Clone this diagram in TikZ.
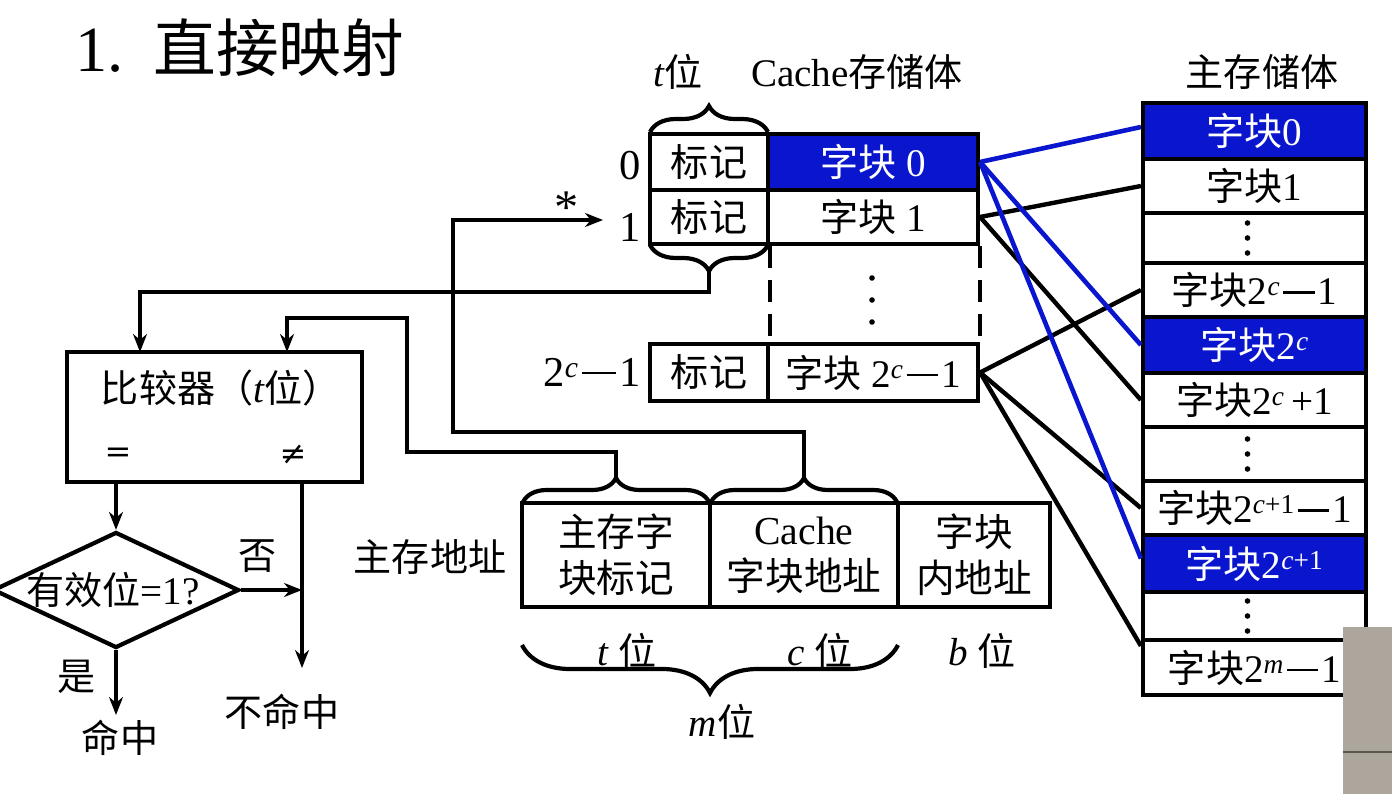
\documentclass[tikz,border=0pt]{standalone}
\usepackage{fontspec}
\setmainfont{Liberation Serif}[Scale=1.15]
\newfontfamily\cjk{Noto Sans CJK SC}[Scale=1.12]
\newfontfamily\dvs{DejaVu Serif}
\usetikzlibrary{arrows.meta,decorations.pathreplacing,calc,shapes.geometric}
\definecolor{cblue}{RGB}{10,22,205}
\definecolor{camgray}{RGB}{172,166,156}
\definecolor{camline}{RGB}{90,86,80}
\newcommand\zh[1]{{\cjk #1}}
\newcommand\ldash{\hspace{0.08em}\rule[0.28em]{0.8em}{0.055em}\hspace{0.08em}}
\newcommand\txtfont{\fontsize{34}{44}\selectfont}
\newcommand\mydots[3]{\fill ($(#1)+(#2,-#3)$) circle (2.8pt) ($(#1)+(#2,0)$) circle (2.8pt) ($(#1)+(#2,#3)$) circle (2.8pt);}
\begin{document}
\begin{tikzpicture}[x=1pt,y=-1pt,font=\txtfont,inner sep=0pt,
  lw/.style={line width=4.2pt},
  cell/.style 2 args={draw,lw,minimum width=#1,minimum height=#2,inner sep=0pt},
  arr/.style={lw,-{Stealth[length=18pt,width=14pt]}},
  brc/.style={lw,decorate,decoration={brace,amplitude=#1}},
  bline/.style={line width=4.6pt,cblue},
  kline/.style={line width=4.4pt,black}]
\useasboundingbox (0,0) rectangle (1392,794);
\fill[white] (0,0) rectangle (1392,794);

% title
\node[anchor=west,font=\fontsize{56}{56}\selectfont] (title) at (75,48) {1.\hspace{30pt}\zh{直接映射}};

% top labels
\node (tlab) at (678,72) {\textit{t}\zh{位}};
\node (cachelab) at (857,72) {Cache\zh{存储体}};
\node (memlab) at (1262,72) {\zh{主存储体}};

% cache cells
\node[cell={118}{56}] (t0) at (709,162) {\zh{标记}};
\node[cell={210}{56},fill=cblue,text=white] (d0) at (873,162) {\zh{字块} 0};
\node[cell={118}{54}] (t1) at (709,217) {\zh{标记}};
\node[cell={210}{54}] (d1) at (873,217) {\zh{字块} 1};
\node[cell={118}{57}] (tL) at (709,372.5) {\zh{标记}};
\node[cell={210}{57}] (dL) at (873,372.5) {\zh{字块} 2\textsuperscript{\textit{c}}\ldash 1};
\draw[lw,dash pattern=on 22pt off 12pt] (t1.south east) -- (tL.north east);
\draw[lw,dash pattern=on 22pt off 12pt] (d1.south east) -- (dL.north east);
\coordinate (cdots) at (872,300);
\mydots{cdots}{0}{22}

% row labels
\node[anchor=east,font=\fontsize{37}{44}\selectfont] (r0) at (641,166) {0};
\node[anchor=east,font=\fontsize{37}{44}\selectfont] (r1) at (641,227) {1};
\node[anchor=east,font=\fontsize{37}{44}\selectfont] (rL) at (641,372) {2\textsuperscript{\textit{c}}\ldash 1};

% braces on tag column
\draw[brc=26pt] (650,132) -- (768,132);
\draw[brc=26pt] (768,245) -- (650,245);
\coordinate (tbr) at (709,271);

% main memory
\node[cell={223}{56},fill=cblue,text=white] (m0) at (1254.5,131) {\zh{字块}0};
\node[cell={223}{54}] (m1) at (1254.5,186) {\zh{字块}1};
\node[cell={223}{50}] (m2) at (1254.5,238) {};
\node[cell={223}{54}] (m3) at (1254.5,290) {\zh{字块}2\textsuperscript{\textit{c}}\ldash 1};
\node[cell={223}{56},fill=cblue,text=white] (m4) at (1254.5,345) {\zh{字块}2\textsuperscript{\textit{c}}};
\node[cell={223}{54}] (m5) at (1254.5,400) {\zh{字块}2\textsuperscript{\textit{c}}\,+1};
\node[cell={223}{54}] (m6) at (1254.5,454) {};
\node[cell={223}{54}] (m7) at (1254.5,508) {\zh{字块}2\textsuperscript{\textit{c}+1}\ldash 1};
\node[cell={223}{57},fill=cblue,text=white] (m8) at (1254.5,563.5) {\zh{字块}2\textsuperscript{\textit{c}+1}};
\node[cell={223}{48}] (m9) at (1254.5,616) {};
\node[cell={223}{55}] (m10) at (1254.5,667.5) {\zh{字块}2\textsuperscript{\textit{m}}\ldash 1};
\mydots{m2}{-7}{15}
\mydots{m6}{-7}{15}
\mydots{m9}{-7}{15}

% cache -> memory connectors
\draw[kline] (d1.east) -- (m1.west);
\draw[kline] (d1.east) -- (m5.west);
\draw[kline] (dL.east) -- (m3.west);
\draw[kline] (dL.east) -- (m7.west);
\draw[kline] (dL.east) -- ($(m10.north west)+(0,8)$);
\draw[bline] (d0.east) -- ($(m0.west)+(0,-4)$);
\draw[bline] (d0.east) -- (m4.west);
\draw[bline] (d0.east) -- ($(m8.west)+(0,-5)$);

% main memory address
\node (addrlab) at (430,557) {\zh{主存地址}};
\node[cell={188}{104},align=center,font=\fontsize{34.5}{46}\selectfont] (a1) at (616,555) {\zh{主存字}\\\zh{块标记}};
\node[cell={188}{104},align=center,font=\fontsize{34.5}{46}\selectfont] (a2) at (804,555) {Cache\\\zh{字块地址}};
\node[cell={152}{104},align=center,font=\fontsize{34.5}{46}\selectfont] (a3) at (974,555) {\zh{字块}\\\zh{内地址}};
\draw[brc=24pt] (523,502) -- (709,502);
\draw[brc=24pt] (711,502) -- (897,502);
\coordinate (ab1) at (616,478);
\coordinate (ab2) at (804,478);
\draw[brc=48pt] (898,645) -- (522,645);
\node (tw) at (627,651) {\textit{t} \zh{位}};
\node (cw) at (820,651) {\textit{c} \zh{位}};
\node (bw) at (982,651) {\textit{b} \zh{位}};
\node (mw) at (722,722) {\textit{m}\zh{位}};

% comparator
\node[draw,lw,minimum width=295,minimum height=130] (cmp) at (214.5,417) {};
\node (cmptxt) at (221,388) {\zh{比较器（}\textit{t}\zh{位）}};
\node[font=\dvs\fontsize{32}{40}\selectfont] (eq) at (118,455) {=};
\node[font=\dvs\fontsize{32}{40}\selectfont] (ne) at (293,455) {≠};
\coordinate (cin1) at (140,352);
\coordinate (cin2) at (287,352);

% tag compare path
\draw[arr] (tbr) -- (709,292) -| (cin1);
% address tag path
\draw[arr] (ab1) -- (616,452) -- (407,452) -- (407,318) -| (cin2);
% cache index path
\coordinate (star) at (603,220);
\draw[arr] (ab2) -- (804,432) -- (453,432) -- (453,220) -- (star);
\node[font=\fontsize{42}{42}\selectfont] (asterisk) at (567,208) {*};

% decision
\node[diamond,draw,lw,minimum width=246,minimum height=116,inner sep=0pt,aspect=2.1] (dia) at (116,590) {};
\node (diatxt) at (113,590) {\zh{有效位}=1?};
\coordinate (nm) at (302,668);
\coordinate (hit) at (116,715);
\draw[arr] (dia.north |- cmp.south) -- (dia.north);
\draw[arr] (nm |- cmp.south) -- (nm);
\draw[arr] (dia.east) -- (dia.east -| nm);
\draw[arr] (dia.south) -- (hit);
\node (no) at (258,556) {\zh{否}};
\node (yes) at (77,677) {\zh{是}};
\node (hitlab) at (120,738) {\zh{命中}};
\node (misslab) at (282,712) {\zh{不命中}};

% camera artefact at bottom right
\fill[camgray] (1343,627) rectangle (1392,794);
\draw[camline,line width=1.2pt] (1343,752) -- (1392,752);
\end{tikzpicture}
\end{document}
